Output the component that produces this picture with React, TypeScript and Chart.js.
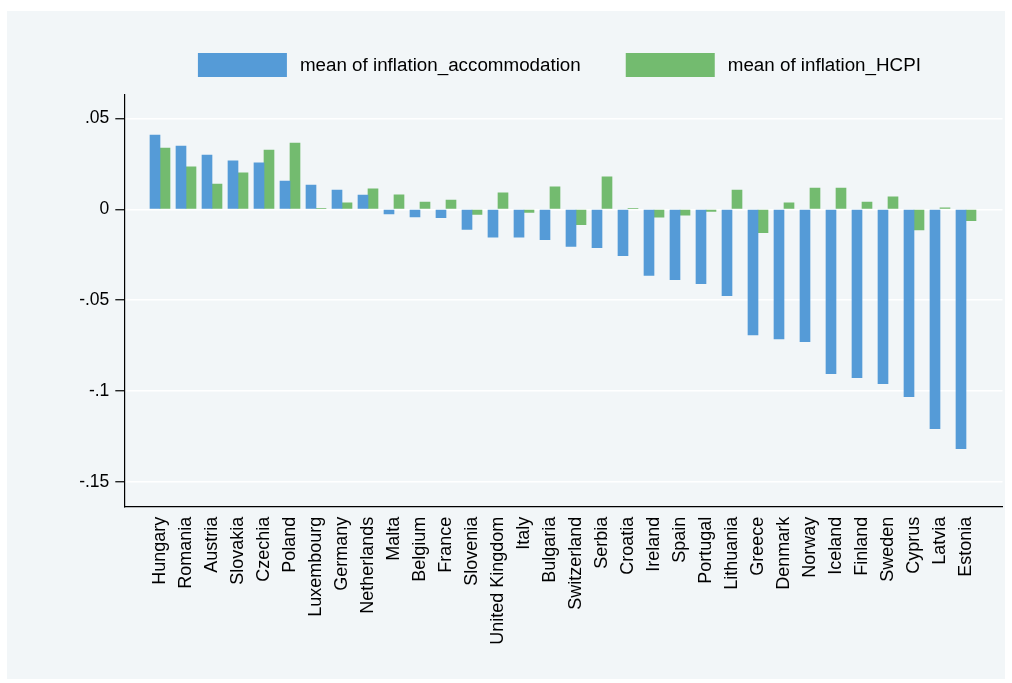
import React, { useEffect, useRef } from "react";
import { Chart, registerables } from "chart.js";

Chart.register(...registerables);

const countries = [
  "Hungary", "Romania", "Austria", "Slovakia", "Czechia", "Poland", "Luxembourg", "Germany",
  "Netherlands", "Malta", "Belgium", "France", "Slovenia", "United Kingdom", "Italy", "Bulgaria",
  "Switzerland", "Serbia", "Croatia", "Ireland", "Spain", "Portugal", "Lithuania", "Greece",
  "Denmark", "Norway", "Iceland", "Finland", "Sweden", "Cyprus", "Latvia", "Estonia",
];

const accommodation = [
  0.0409, 0.0348, 0.0299, 0.0266, 0.0255, 0.0155, 0.0133, 0.0106,
  0.0078, -0.0026, -0.0042, -0.0046, -0.0111, -0.0154, -0.0154, -0.0167,
  -0.0205, -0.0211, -0.0255, -0.0364, -0.0387, -0.0409, -0.0475, -0.0691,
  -0.0713, -0.0729, -0.0905, -0.0927, -0.096, -0.1032, -0.1208, -0.1318,
];

const hcpi = [
  0.0337, 0.0233, 0.0139, 0.02, 0.0326, 0.0365, 0.0003, 0.0035,
  0.0112, 0.0079, 0.004, 0.0051, -0.0028, 0.009, -0.0017, 0.0123,
  -0.0085, 0.0178, 0.0003, -0.0044, -0.0033, -0.0012, 0.0106, -0.0129,
  0.0035, 0.0117, 0.0117, 0.004, 0.0068, -0.0113, 0.0008, -0.0063,
];

const seriesLabels = ["mean of inflation_accommodation", "mean of inflation_HCPI"];
const yTickValues = [-0.15, -0.1, -0.05, 0, 0.05];
const yTickLabels = ["-.15", "-.1", "-.05", "0", ".05"];

const FONT = "'Liberation Sans', Arial, Helvetica, sans-serif";
const BLUE = "#559bd7";
const GREEN = "#73bb6f";
const PANEL = "#f2f6f8";

const legendPlugin = {
  id: "stataLegend",
  afterDraw(chart: any) {
    const ctx = chart.ctx;
    const items = chart.data.datasets.map((ds: any) => ({ text: ds.label, color: ds.backgroundColor }));
    ctx.save();
    ctx.font = `18.8px ${FONT}`;
    const boxW = 89;
    const boxH = 24;
    const gap = 13;
    const itemGap = 45;
    const widths = items.map((it: any) => boxW + gap + ctx.measureText(it.text).width);
    const total = widths.reduce((a: number, b: number) => a + b, 0) + itemGap * (items.length - 1);
    const cx = (chart.chartArea.left + chart.chartArea.right) / 2 - 4;
    let x = cx - total / 2;
    const top = 42;
    items.forEach((it: any, i: number) => {
      ctx.fillStyle = it.color;
      ctx.fillRect(x, top, boxW, boxH);
      ctx.fillStyle = "#000";
      ctx.textBaseline = "middle";
      ctx.textAlign = "left";
      ctx.fillText(it.text, x + boxW + gap, top + boxH / 2 + 1);
      x += widths[i] + itemGap;
    });
    ctx.restore();
  },
};

export default function App() {
  const canvasRef = useRef<HTMLCanvasElement | null>(null);

  useEffect(() => {
    if (!canvasRef.current) return;
    const chart = new Chart(canvasRef.current, {
      type: "bar",
      data: {
        datasets: [
          {
            label: seriesLabels[0],
            data: accommodation.map((v, i) => ({ x: i, y: v })),
            backgroundColor: BLUE,
            borderWidth: 0,
            barThickness: 10,
          },
          {
            label: seriesLabels[1],
            data: hcpi.map((v, i) => ({ x: i, y: v })),
            backgroundColor: GREEN,
            borderWidth: 0,
            barThickness: 10,
          },
        ],
      },
      options: {
        animation: false,
        responsive: false,
        maintainAspectRatio: false,
        devicePixelRatio: 1,
        layout: { padding: { top: 84, right: 2.5, left: 0, bottom: 0 } },
        plugins: {
          legend: { display: false },
          tooltip: { enabled: false },
        },
        scales: {
          x: {
            type: "linear",
            offset: false,
            min: -1.373,
            max: 32.404,
            grid: { display: false, drawTicks: false, offset: false },
            border: { display: true, color: "#000", width: 1.2 },
            afterBuildTicks: (s: any) => {
              s.ticks = countries.map((_, i) => ({ value: i }));
            },
            afterFit: (s: any) => {
              s.height = 172.3;
            },
            ticks: {
              autoSkip: false,
              minRotation: 90,
              maxRotation: 90,
              padding: 10,
              color: "#000",
              font: { size: 18, family: FONT },
              callback: (v: any) => countries[v as number] ?? "",
            },
          },
          y: {
            type: "linear",
            min: -0.1637,
            max: 0.0629,
            afterBuildTicks: (s: any) => {
              s.ticks = yTickValues.map((v) => ({ value: v }));
            },
            afterFit: (s: any) => {
              s.width = 117.3;
            },
            grid: { color: "#ffffff", lineWidth: 1.5, tickColor: "#000", tickLength: 9, tickWidth: 1.2 },
            border: { display: true, color: "#000", width: 1.2 },
            ticks: {
              padding: 6,
              color: "#000",
              font: { size: 17.5, family: FONT },
              callback: (_v: any, i: number) => yTickLabels[i],
            },
          },
        },
      } as any,
      plugins: [legendPlugin],
    });
    return () => chart.destroy();
  }, []);

  return (
    <div style={{ position: "absolute", left: 0, top: 0, width: 1012, height: 683, background: "#ffffff" }}>
      <div style={{ position: "absolute", left: 7, top: 11, width: 998, height: 668, background: PANEL }}>
        <canvas ref={canvasRef} width={998} height={668} style={{ display: "block" }} />
      </div>
    </div>
  );
}
